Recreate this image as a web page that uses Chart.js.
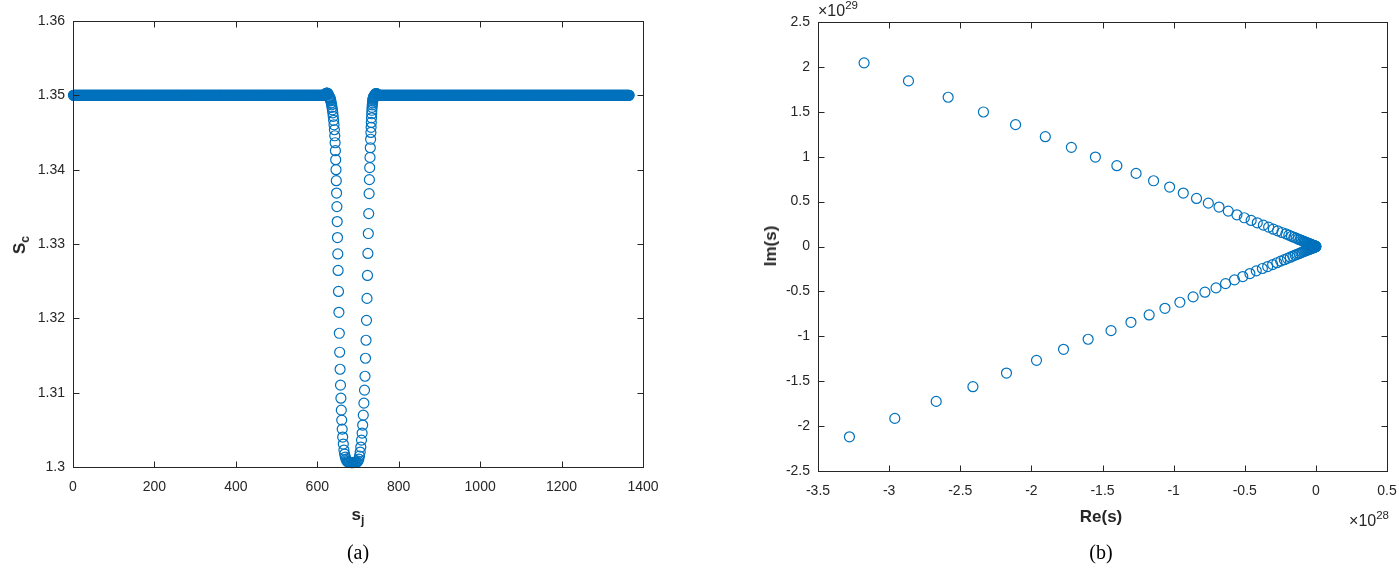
<!DOCTYPE html>
<html>
<head>
<meta charset="utf-8">
<script src="https://cdn.jsdelivr.net/npm/chart.js@4.4.0/dist/chart.umd.js"></script>
<style>
  body { margin:0; background:#fff; width:1399px; height:571px; overflow:hidden; position:relative;
         font-family:"Liberation Sans", Arial, sans-serif; color:#262626; }
  canvas { position:absolute; top:0; }
  .lbl { position:absolute; transform:translate(-50%,-50%); font-weight:bold; font-size:17px; white-space:nowrap; }
  .rot { transform:translate(-50%,-50%) rotate(-90deg); }
  .cap { position:absolute; transform:translate(-50%,-50%); font-family:"Liberation Serif","DejaVu Serif",serif;
         font-size:20px; color:#000; }
  .exp { position:absolute; font-size:16px; white-space:nowrap; }
  sub { font-size:72%; vertical-align:-4px; }
  sup { font-size:72%; vertical-align:7px; }
</style>
</head>
<body>
<canvas id="cA" width="700" height="571" style="left:0"></canvas>
<canvas id="cB" width="699" height="571" style="left:700px"></canvas>

<div class="lbl rot" style="left:21px; top:245px;">S<sub>c</sub></div>
<div class="lbl" style="left:358px; top:516px;">s<sub>j</sub></div>
<div class="cap" style="left:358px; top:552px;">(a)</div>

<div class="lbl rot" style="left:771px; top:246px;">Im(s)</div>
<div class="lbl" style="left:1101px; top:517px;">Re(s)</div>
<div class="cap" style="left:1101px; top:552px;">(b)</div>
<div class="exp" style="left:818px; top:-1px;">&times;10<sup>29</sup></div>
<div class="exp" style="right:10px; top:509px;">&times;10<sup>28</sup></div>

<script>
// ---- (a) S_c against s_j ----
const sjFlatRanges = [[1, 614], [751, 1366]];   // index ranges sitting on the plateau
const scFlat = 1.35;

// dip around s_j ~ 620..750, read point by point
const sjDip = [
  // left shoulder
  615, 616, 617, 618, 619, 620, 621, 622, 623, 624, 625, 626, 627,
  // falling side
  628.8, 629.5, 630.2, 631.0, 631.7, 632.5, 633.2, 634.2, 635.2, 636.1,
  637.1, 638.1, 639.1, 640.1, 641.1, 642.0, 643.0, 643.8, 644.5, 645.2,
  646.0, 646.7, 647.4, 648.2, 648.9, 649.6, 650.4, 651.1, 652.1, 653.1,
  654.1, 655.0, 656.0, 657.0, 658.0, 659.0, 660.0, 661.2, 662.4, 663.9,
  665.4, 667.1, 668.8, 670.5, 672.2, 674.0, 675.7,
  // bottom
  677.9, 680.1, 682.3, 684.5, 686.7, 688.9, 691.2, 693.4, 695.6, 697.8,
  // rising side
  700.0, 702.0, 703.7, 705.4, 706.9, 708.6, 710.1, 711.5, 713.0, 714.5,
  716.0, 717.2, 718.4, 719.7, 720.9, 722.1, 723.3, 724.3, 725.3, 726.3,
  727.3, 728.0, 728.7, 729.5, 730.2, 731.0, 731.7, 732.2, 732.7, 733.2,
  733.7, 734.1, 734.6, 735.1, 735.6, 736.1, 736.6, 737.1, 737.6, 738.1,
  738.6, 739.1,
  // right shoulder
  740, 741, 742, 743, 744, 745, 746, 747, 748, 749, 750
];
const scDip = [
  1.35, 1.35003, 1.35006, 1.3501, 1.35014, 1.35018, 1.35022, 1.35026, 1.3503, 1.3503, 1.35028, 1.35022, 1.35012,
  1.34987, 1.34980, 1.34973, 1.34966, 1.34953, 1.34940, 1.34926, 1.34899, 1.34872, 1.34839,
  1.34805, 1.34765, 1.34718, 1.34664, 1.34604, 1.34537, 1.34456, 1.34362, 1.34255, 1.34134,
  1.34000, 1.33852, 1.33685, 1.33503, 1.33302, 1.33087, 1.32866, 1.32644, 1.32362, 1.32081,
  1.31799, 1.31544, 1.31315, 1.31101, 1.30926, 1.30765, 1.30631, 1.30510, 1.30403, 1.30309,
  1.30228, 1.30174, 1.30134, 1.30107, 1.30087, 1.30074, 1.30067,
  1.30063, 1.30061, 1.30060, 1.30059, 1.30059, 1.30060, 1.30061, 1.30062, 1.30064, 1.30066,
  1.30081, 1.30107, 1.30148, 1.30201, 1.30268, 1.30362, 1.30456, 1.30564, 1.30698, 1.30859,
  1.31034, 1.31221, 1.31463, 1.31705, 1.31973, 1.32268, 1.32577, 1.32873, 1.33141, 1.33409,
  1.33678, 1.33866, 1.34027, 1.34165, 1.34295, 1.34409, 1.34501, 1.34570, 1.34635, 1.34698,
  1.34752, 1.34799, 1.34839, 1.34872, 1.34899, 1.34922, 1.34940, 1.34953, 1.34964, 1.34973,
  1.34980, 1.34985,
  1.3499, 1.35, 1.3501, 1.3502, 1.35025, 1.35025, 1.3502, 1.35015, 1.3501, 1.35005, 1.35
];
const sjTicks = [0, 200, 400, 600, 800, 1000, 1200, 1400];
const scTicks = [1.3, 1.31, 1.32, 1.33, 1.34, 1.35, 1.36];

// ---- (b) roots in the complex plane (Re in 1e28, Im in 1e29) ----
const reUpper = [-3.176, -2.864, -2.585, -2.337, -2.111, -1.902, -1.719, -1.550, -1.399, -1.264,
  -1.141, -1.028, -0.932, -0.839, -0.756, -0.681, -0.616, -0.555, -0.503, -0.455,
  -0.412, -0.369, -0.332, -0.299, -0.269, -0.239, -0.211, -0.190, -0.171, -0.154,
  -0.139, -0.125, -0.112, -0.101, -0.091, -0.082, -0.074, -0.066, -0.060, -0.054,
  -0.048, -0.044, -0.039, -0.035, -0.032, -0.029, -0.026, -0.023, -0.021, -0.019,
  -0.017, -0.015, -0.014, -0.012, -0.011, -0.010, -0.009, -0.008, -0.007, -0.006,
  -0.005, -0.004, -0.003, -0.002, -0.001, 0.0];
const imUpper = [2.045, 1.844, 1.662, 1.498, 1.357, 1.223, 1.104, 0.996, 0.900, 0.814,
  0.732, 0.662, 0.595, 0.535, 0.483, 0.439, 0.394, 0.353, 0.320, 0.290,
  0.264, 0.238, 0.216, 0.193, 0.175, 0.156, 0.141, 0.127, 0.114, 0.103,
  0.093, 0.083, 0.075, 0.068, 0.061, 0.055, 0.049, 0.044, 0.040, 0.036,
  0.032, 0.029, 0.026, 0.023, 0.021, 0.019, 0.017, 0.015, 0.014, 0.013,
  0.011, 0.010, 0.009, 0.008, 0.007, 0.006, 0.005, 0.005, 0.004, 0.004,
  0.003, 0.002, 0.002, 0.001, 0.001, 0.0];
const reLower = [-3.279, -2.960, -2.669, -2.411, -2.175, -1.964, -1.774, -1.601, -1.440, -1.300,
  -1.172, -1.061, -0.956, -0.863, -0.780, -0.702, -0.635, -0.572, -0.514, -0.464,
  -0.419, -0.376, -0.339, -0.304, -0.274, -0.247, -0.222, -0.200, -0.180, -0.162,
  -0.146, -0.131, -0.118, -0.106, -0.096, -0.086, -0.077, -0.070, -0.063, -0.056,
  -0.051, -0.046, -0.041, -0.037, -0.033, -0.030, -0.027, -0.024, -0.022, -0.020,
  -0.018, -0.016, -0.014, -0.013, -0.011, -0.010, -0.009, -0.008, -0.007, -0.006,
  -0.005, -0.004, -0.003, -0.002, -0.001];
const imLower = [-2.119, -1.914, -1.725, -1.561, -1.409, -1.268, -1.145, -1.033, -0.937, -0.844,
  -0.762, -0.688, -0.621, -0.561, -0.509, -0.461, -0.413, -0.372, -0.335, -0.301,
  -0.271, -0.245, -0.223, -0.201, -0.181, -0.163, -0.147, -0.132, -0.119, -0.107,
  -0.096, -0.087, -0.078, -0.070, -0.063, -0.057, -0.051, -0.046, -0.041, -0.037,
  -0.033, -0.030, -0.027, -0.024, -0.022, -0.020, -0.018, -0.016, -0.014, -0.013,
  -0.012, -0.010, -0.009, -0.008, -0.007, -0.006, -0.006, -0.005, -0.004, -0.004,
  -0.003, -0.002, -0.002, -0.001, -0.001];
const reTicks = [-3.5, -3, -2.5, -2, -1.5, -1, -0.5, 0, 0.5];
const imTicks = [-2.5, -2, -1.5, -1, -0.5, 0, 0.5, 1, 1.5, 2, 2.5];

const BLUE = '#0072BD';
const AXIS = '#262626';
const tickFont = { family: '"Liberation Sans", Arial, sans-serif', size: 14 };

// (a) point list: plateau ranges + the dip points
const ptsA = [];
for (const [a, b] of sjFlatRanges) {
  for (let j = a; j <= b; j++) ptsA.push({ x: j, y: scFlat });
}
sjDip.forEach((s, i) => ptsA.push({ x: s, y: scDip[i] }));
ptsA.sort((p, q) => p.x - q.x);

const ptsUpper = reUpper.map((r, i) => ({ x: r, y: imUpper[i] }));
const ptsLower = reLower.map((r, i) => ({ x: r, y: imLower[i] }));

// MATLAB style box with inward ticks on all four sides
const matlabBox = {
  id: 'matlabBox',
  afterDraw(chart) {
    const { ctx, chartArea: a, scales } = chart;
    const len = 6;
    ctx.save();
    ctx.strokeStyle = AXIS;
    ctx.lineWidth = 1;
    const L = Math.round(a.left) + 0.5, R = Math.round(a.right) + 0.5;
    const T = Math.round(a.top) + 0.5, B = Math.round(a.bottom) + 0.5;
    ctx.strokeRect(L, T, R - L, B - T);
    ctx.beginPath();
    scales.x.ticks.forEach(t => {
      const px = Math.round(scales.x.getPixelForValue(t.value)) + 0.5;
      ctx.moveTo(px, B); ctx.lineTo(px, B - len);
      ctx.moveTo(px, T); ctx.lineTo(px, T + len);
    });
    scales.y.ticks.forEach(t => {
      const py = Math.round(scales.y.getPixelForValue(t.value)) + 0.5;
      ctx.moveTo(L, py); ctx.lineTo(L + len, py);
      ctx.moveTo(R, py); ctx.lineTo(R - len, py);
    });
    ctx.stroke();
    ctx.restore();
  }
};

function axis(min, max, list, fixW, fixH, pad) {
  return {
    type: 'linear', min, max,
    grid: { display: false, drawTicks: false },
    border: { display: false },
    afterBuildTicks: s => { s.ticks = list.map(v => ({ value: v })); },
    ticks: {
      color: AXIS, font: tickFont, padding: pad,
      callback: v => String(+v.toFixed(2))
    },
    afterFit: s => {
      if (fixW) s.width = fixW;
      if (fixH) s.height = fixH;
      // let the layout padding alone decide where the box ends
      s.paddingLeft = 0; s.paddingRight = 0; s.paddingTop = 0; s.paddingBottom = 0;
    }
  };
}

function marker(data) {
  return {
    data, showLine: false, clip: false,
    pointStyle: 'circle', pointRadius: 5, pointHoverRadius: 5,
    pointBorderWidth: 1.2, pointBorderColor: BLUE, pointBackgroundColor: 'rgba(0,0,0,0)'
  };
}

const common = {
  responsive: false, animation: false, events: [],
  plugins: { legend: { display: false }, tooltip: { enabled: false } }
};

new Chart(document.getElementById('cA'), {
  type: 'scatter',
  data: { datasets: [marker(ptsA)] },
  options: {
    ...common,
    layout: { padding: { left: 0, right: 57, top: 21, bottom: 0 } },
    scales: {
      x: axis(0, 1400, sjTicks, null, 104, 12),
      y: axis(1.3, 1.36, scTicks, 73, null, 8)
    }
  },
  plugins: [matlabBox]
});

new Chart(document.getElementById('cB'), {
  type: 'scatter',
  data: { datasets: [marker(ptsUpper), marker(ptsLower)] },
  options: {
    ...common,
    layout: { padding: { left: 0, right: 12, top: 22, bottom: 0 } },
    scales: {
      x: axis(-3.5, 0.5, reTicks, null, 100, 12),
      y: axis(-2.5, 2.5, imTicks, 118, null, 8)
    }
  },
  plugins: [matlabBox]
});
</script>
</body>
</html>
